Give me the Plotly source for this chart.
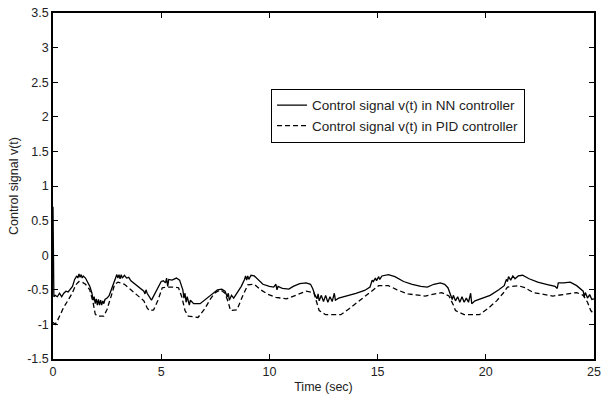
import plotly.graph_objects as go

# NN controller control signal (solid)
t_nn = [0, 0.04, 0.1, 0.2, 0.3, 0.4, 0.5, 0.6, 0.7, 0.8, 0.9, 1.0, 1.1, 1.15, 1.2, 1.25, 1.3, 1.35, 1.4, 1.5,
        1.6, 1.7, 1.8, 1.85, 1.9, 1.95, 2.0, 2.05, 2.1, 2.15, 2.2, 2.25, 2.3, 2.35, 2.4, 2.5, 2.6, 2.7, 2.8, 2.9,
        2.95, 3.0, 3.05, 3.1, 3.15, 3.2, 3.3, 3.4, 3.5, 3.6, 3.8, 4.0, 4.1, 4.2, 4.25, 4.3, 4.35, 4.45, 4.55, 4.6,
        4.8, 5.0, 5.1, 5.2, 5.25, 5.3, 5.35, 5.5, 5.7, 5.85, 6.0, 6.05, 6.1, 6.15, 6.2, 6.3, 6.35, 6.5, 6.8, 7.0,
        7.2, 7.4, 7.6, 7.8, 7.95, 8.05, 8.1, 8.15, 8.25, 8.35, 8.5, 8.7, 8.85, 8.9, 8.95, 9.0, 9.05, 9.15, 9.3, 9.5,
        9.7, 10.0, 10.2, 10.3, 10.35, 10.4, 10.6, 10.9, 11.1, 11.4, 11.7, 11.9, 12.0, 12.1, 12.2, 12.25, 12.3, 12.4,
        12.5, 12.6, 12.7, 12.8, 12.9, 13.0, 13.05, 13.2, 13.6, 14.0, 14.4, 14.65, 14.75, 14.8, 14.9, 14.95, 15.05,
        15.1, 15.2, 15.5, 15.8, 16.2, 16.6, 17.0, 17.3, 17.6, 17.9, 18.1, 18.25, 18.35, 18.45, 18.5, 18.6, 18.7,
        18.8, 18.9, 19.0, 19.1, 19.2, 19.3, 19.35, 19.5, 19.8, 20.2, 20.6, 20.85, 20.95, 21.0, 21.05, 21.15, 21.25,
        21.35, 21.5, 21.7, 22.0, 22.4, 22.8, 23.2, 23.3, 23.35, 23.6, 23.9, 24.2, 24.5, 24.55, 24.6, 24.7, 24.8,
        24.9, 25.0]
v_nn = [0.7, -0.6, -0.58, -0.6, -0.55, -0.6, -0.55, -0.52, -0.53, -0.48, -0.45, -0.35, -0.3, -0.33, -0.27, -0.32,
        -0.28, -0.33, -0.3, -0.33, -0.38, -0.45, -0.55, -0.65, -0.6, -0.7, -0.63, -0.72, -0.64, -0.72, -0.65, -0.72,
        -0.66, -0.7, -0.64, -0.62, -0.58, -0.5, -0.4, -0.32, -0.28, -0.33, -0.28, -0.34, -0.28, -0.33, -0.29, -0.33,
        -0.32, -0.37, -0.42, -0.47, -0.5, -0.52, -0.56, -0.5, -0.55, -0.6, -0.65, -0.62, -0.5, -0.38, -0.37, -0.4,
        -0.33, -0.45, -0.35, -0.36, -0.33, -0.36, -0.5, -0.62, -0.55, -0.68, -0.6, -0.72, -0.65, -0.7, -0.7, -0.65,
        -0.6, -0.55, -0.5, -0.49, -0.52, -0.6, -0.55, -0.65, -0.58, -0.62, -0.55, -0.45, -0.35, -0.3, -0.36, -0.3,
        -0.35, -0.29, -0.3, -0.36, -0.42, -0.45, -0.46, -0.42, -0.5, -0.45, -0.48, -0.49, -0.45, -0.41, -0.4, -0.42,
        -0.48, -0.57, -0.63, -0.56, -0.66, -0.58, -0.67, -0.58, -0.68, -0.6, -0.67, -0.55, -0.65, -0.62, -0.59,
        -0.55, -0.51, -0.46, -0.36, -0.38, -0.33, -0.37, -0.31, -0.35, -0.3, -0.28, -0.31, -0.38, -0.42, -0.45,
        -0.46, -0.42, -0.4, -0.42, -0.47, -0.56, -0.64, -0.58, -0.66, -0.6, -0.68, -0.6, -0.68, -0.62, -0.68, -0.55,
        -0.7, -0.66, -0.63, -0.58, -0.5, -0.44, -0.35, -0.38, -0.31, -0.36, -0.3, -0.34, -0.3, -0.29, -0.34, -0.39,
        -0.42, -0.45, -0.48, -0.4, -0.4, -0.39, -0.44, -0.52, -0.6, -0.54, -0.62, -0.57, -0.64, -0.63]

# PID controller control signal (dashed)
t_pid = [0, 0.1, 0.2, 0.35, 0.5, 0.7, 0.9, 1.05, 1.2, 1.35, 1.5, 1.7, 1.85, 1.95, 2.05, 2.35, 2.5, 2.7, 2.85, 3.0,
         3.3, 3.6, 3.9, 4.2, 4.35, 4.45, 4.65, 4.85, 5.05, 5.3, 5.6, 5.8, 5.95, 6.1, 6.25, 6.7, 7.0, 7.3, 7.5, 7.75,
         7.95, 8.1, 8.2, 8.5, 8.75, 9.0, 9.3, 9.6, 9.9, 10.3, 10.8, 11.2, 11.7, 12.05, 12.2, 12.3, 12.6, 13.3, 13.7,
         14.15, 14.6, 15.05, 15.5, 15.9, 16.4, 17.2, 17.96, 18.3, 18.5, 18.6, 19.0, 19.7, 20.1, 20.5, 20.8, 21.0,
         21.5, 21.8, 22.2, 23.1, 24.2, 24.5, 24.7, 24.85, 25.0]
v_pid = [-0.97, -1.0, -0.95, -0.85, -0.75, -0.65, -0.54, -0.43, -0.38, -0.39, -0.42, -0.5, -0.68, -0.85, -0.88,
         -0.88, -0.78, -0.58, -0.42, -0.39, -0.42, -0.5, -0.58, -0.66, -0.76, -0.8, -0.79, -0.65, -0.47, -0.46,
         -0.46, -0.47, -0.6, -0.8, -0.88, -0.9, -0.78, -0.62, -0.54, -0.5, -0.55, -0.68, -0.8, -0.79, -0.6, -0.43,
         -0.42, -0.5, -0.56, -0.61, -0.63, -0.58, -0.52, -0.54, -0.68, -0.8, -0.86, -0.86, -0.77, -0.66, -0.55,
         -0.44, -0.44, -0.5, -0.56, -0.59, -0.54, -0.59, -0.72, -0.8, -0.86, -0.86, -0.77, -0.66, -0.55, -0.46,
         -0.44, -0.47, -0.54, -0.59, -0.54, -0.58, -0.68, -0.8, -0.85]

x_ticks = [0, 5, 10, 15, 20, 25]
y_ticks = [-1.5, -1, -0.5, 0, 0.5, 1, 1.5, 2, 2.5, 3, 3.5]
y_tick_labels = ["-1.5", "-1", "-0.5", "0", "0.5", "1", "1.5", "2", "2.5", "3", "3.5"]

FONT = "Liberation Sans, Arial, sans-serif"

fig = go.Figure()
fig.add_trace(go.Scatter(x=t_nn, y=v_nn, mode="lines", name="Control signal v(t) in NN controller",
                         line=dict(color="black", width=1.3)))
fig.add_trace(go.Scatter(x=t_pid, y=v_pid, mode="lines", name="Control signal v(t) in PID controller",
                         line=dict(color="black", width=1.3, dash="5px,3px")))

axis_common = dict(showline=True, linecolor="black", linewidth=1.5, mirror="ticks", ticks="inside",
                   ticklen=5, tickcolor="black", tickwidth=1, showgrid=False, zeroline=False,
                   tickfont=dict(family=FONT, size=12.5, color="#222"))

fig.update_xaxes(range=[0, 25], tickvals=x_ticks, title=dict(text="Time (sec)", standoff=4,
                 font=dict(family=FONT, size=12.5, color="#222")), **axis_common)
fig.update_yaxes(range=[-1.5, 3.5], tickvals=y_ticks, ticktext=y_tick_labels,
                 title=dict(text="Control signal v(t)", standoff=6, font=dict(family=FONT, size=12.5, color="#222")),
                 **axis_common)

fig.update_layout(
    width=607, height=398,
    margin=dict(l=53, r=6, t=13, b=38),
    paper_bgcolor="white", plot_bgcolor="white",
    showlegend=True,
    legend=dict(x=0.403, y=0.781, xanchor="left", yanchor="top", bgcolor="white",
                bordercolor="black", borderwidth=1, tracegroupgap=0,
                font=dict(family=FONT, size=13.5, color="#222"), itemwidth=30),
)

fig.write_html("out.html")
